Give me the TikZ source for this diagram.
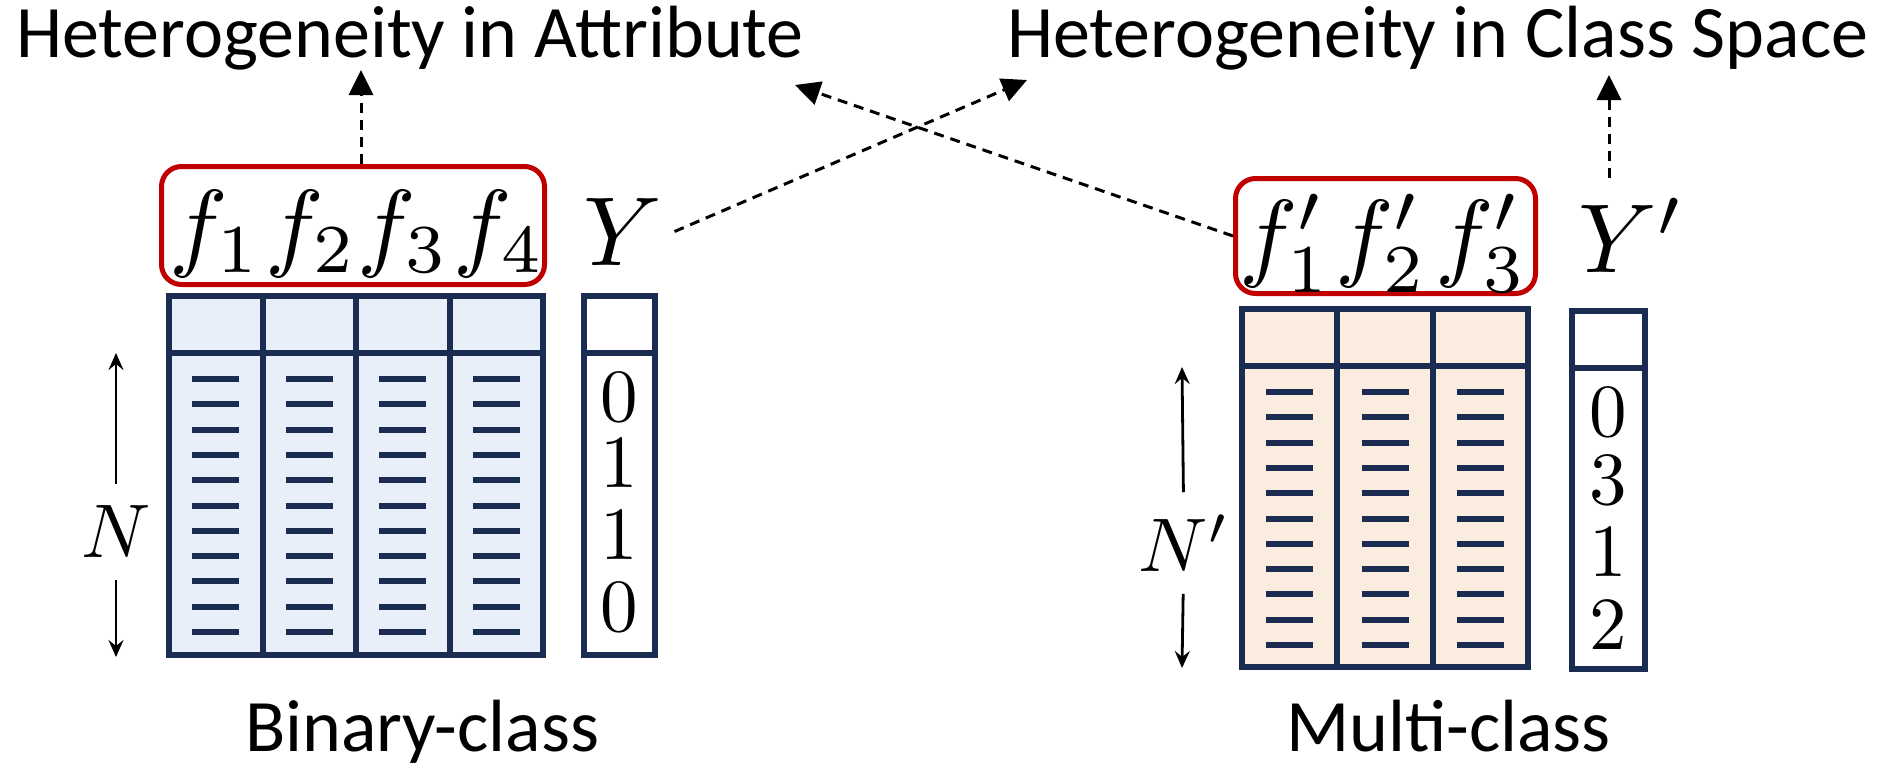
\documentclass[tikz,border=0pt]{standalone}
\usepackage{graphicx}
\usepackage{fontspec}
\setmainfont{Carlito}
\usetikzlibrary{arrows.meta}
\definecolor{navy}{HTML}{1B2C52}
\definecolor{boxred}{HTML}{C00000}
\definecolor{bluefill}{HTML}{E8EFF8}
\definecolor{peachfill}{HTML}{FBECE0}
% math set at 10pt and enlarged
\newcommand{\symsz}[2]{\scalebox{#1}{$#2$}}

\begin{document}
\begin{tikzpicture}[x=1pt,y=-1pt,
  label text/.style={font=\fontsize{74}{80}\selectfont, inner sep=0pt},
  mathsym/.style={inner sep=0pt},
  sizesym/.style={inner xsep=0pt, inner ysep=22pt},
  digit/.style={inner sep=0pt},
  redbox/.style={draw=boxred, line width=5pt, rounded corners=20pt, inner sep=0pt},
  grid line/.style={draw=navy, line width=6pt},
  cell bar/.style={draw=navy, line width=6pt},
  dasharrow/.style={line width=3pt, dash pattern=on 10pt off 7pt,
    -{Triangle[length=25pt,width=24pt]}},
  sizearrow/.style={line width=2.8pt, -{Stealth[length=17pt,width=15pt,inset=6pt]}},
]
\useasboundingbox (0,0) rectangle (1886,769);

% ---- headings ----
\node[label text, anchor=base west] (title1) at (16,57) {Heterogeneity in Attribute};
\node[label text, anchor=base west] (title2) at (1007,57) {Heterogeneity in Class Space};

% ---- binary-class table ----
\filldraw[grid line, fill=bluefill] (169,296) rectangle (543,655);
\draw[grid line] (169,353) -- (543,353);
\foreach \x in {262.5,356,449.5} \draw[grid line] (\x,296) -- (\x,655);
\foreach \cx in {215.75,309.25,402.75,496.25}
  \foreach \k in {0,...,10}
    \draw[cell bar] ({\cx-23.5},{379+25.3*\k}) -- ++(47,0);
\filldraw[grid line, fill=white] (584,296) rectangle (655,655);
\draw[grid line] (584,353) -- (655,353);
\node[digit] (b0) at (619,397) {\symsz{7.5}{0}};
\node[digit] (b1) at (619,463) {\symsz{7.5}{1}};
\node[digit] (b2) at (619,535) {\symsz{7.5}{1}};
\node[digit] (b3) at (619,607) {\symsz{7.5}{0}};

\node[redbox, minimum width=383pt, minimum height=118pt] (box1) at (353,225.5) {};
\node[mathsym, anchor=base] (f1) at (215,258) {\symsz{9.8}{f_1}};
\node[mathsym, anchor=base] (f2) at (311,258) {\symsz{9.8}{f_2}};
\node[mathsym, anchor=base] (f3) at (403,258) {\symsz{9.8}{f_3}};
\node[mathsym, anchor=base] (f4) at (499,258) {\symsz{9.8}{f_4}};
\node[mathsym, anchor=base] (ylab) at (623,265) {\symsz{9.8}{Y}};

\node[sizesym] (nlab) at (116,532) {\symsz{7.6}{N}};
\coordinate (ntop) at (116,353);
\coordinate (nbot) at (116,657);
\draw[sizearrow] (nlab) -- (ntop);
\draw[sizearrow] (nlab) -- (nbot);

\node[label text, anchor=base west] (binlab) at (245,751) {Binary-class};

% ---- multi-class table ----
\filldraw[grid line, fill=peachfill] (1242,309) rectangle (1528,667);
\draw[grid line] (1242,366) -- (1528,366);
\foreach \x in {1337.3,1432.7} \draw[grid line] (\x,309) -- (\x,667);
\foreach \cx in {1289.7,1385,1480.4}
  \foreach \k in {0,...,10}
    \draw[cell bar] ({\cx-23.5},{392+25.3*\k}) -- ++(47,0);
\filldraw[grid line, fill=white] (1572,311) rectangle (1645,669);
\draw[grid line] (1572,368) -- (1645,368);
\node[digit] (m0) at (1608,412) {\symsz{7.5}{0}};
\node[digit] (m1) at (1608,480) {\symsz{7.5}{3}};
\node[digit] (m2) at (1608,552) {\symsz{7.5}{1}};
\node[digit] (m3) at (1608,625) {\symsz{7.5}{2}};

\node[redbox, minimum width=300pt, minimum height=115pt] (box2) at (1385.5,236) {};
\node[mathsym, anchor=base] (g1) at (1285,268) {\symsz{9.8}{f'_1}};
\node[mathsym, anchor=base] (g2) at (1381,268) {\symsz{9.8}{f'_2}};
\node[mathsym, anchor=base] (g3) at (1481,268) {\symsz{9.8}{f'_3}};
\node[mathsym, anchor=base] (yplab) at (1632,272) {\symsz{9.8}{Y'}};

\node[sizesym] (nplab) at (1184,543) {\symsz{7.6}{N'}};
\coordinate (nptop) at (1182,367);
\coordinate (npbot) at (1182,668);
\draw[sizearrow] (nplab) -- (nptop);
\draw[sizearrow] (nplab) -- (npbot);

\node[label text, anchor=base west] (multlab) at (1286,751) {Multi-class};

% ---- dashed pointers to the headings ----
\coordinate (tipA) at (361,70);
\coordinate (tipB) at (1027,80);
\coordinate (tipC) at (795,85);
\coordinate (tipD) at (1609,75);
\draw[dasharrow] (box1.north -| tipA) -- (tipA);
\draw[dasharrow] ([xshift=12pt]ylab.east) -- (tipB);
\draw[dasharrow] (box2.west) -- (tipC);
\draw[dasharrow, shorten <=20pt] (yplab.north -| tipD) -- (tipD);
\end{tikzpicture}
\end{document}
